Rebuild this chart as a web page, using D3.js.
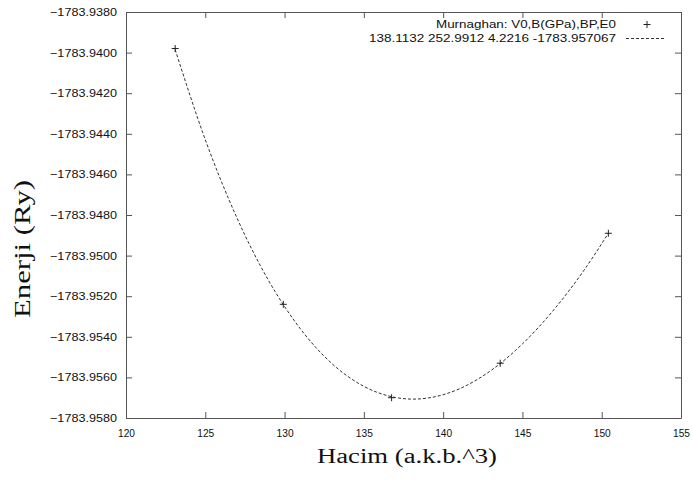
<!DOCTYPE html>
<html>
<head>
<meta charset="utf-8">
<script src="https://cdn.jsdelivr.net/npm/d3@7"></script>
<style>
body { margin: 0; background: #fff; }
text { fill: #111; }
</style>
</head>
<body>
<svg width="692" height="480"></svg>
<script>
// tick values
const xTicks = [120, 125, 130, 135, 140, 145, 150, 155];
const yTicks = [-1783.9380, -1783.9400, -1783.9420, -1783.9440, -1783.9460, -1783.9480,
    -1783.9500, -1783.9520, -1783.9540, -1783.9560, -1783.9580];

// measured points (volume, energy)
const pointV = [123.1, 129.92, 136.75, 143.6, 150.42];
const pointE = [-1783.9398, -1783.9524, -1783.9570, -1783.9553, -1783.9489];

// fitted curve
const fitV = [123.1, 125, 127, 129, 131, 133, 135, 137, 138.1, 139, 141, 143, 145, 147, 149, 150.42];
const fitE = [-1783.93985, -1783.94429, -1783.94815, -1783.95124, -1783.95361, -1783.95533,
    -1783.95644, -1783.95699, -1783.95707, -1783.95702, -1783.95657, -1783.95567,
    -1783.95435, -1783.95265, -1783.95059, -1783.94890];

const legendTitle = "Murnaghan: V0,B(GPa),BP,E0";
const legendFit = "138.1132 252.9912 4.2216 -1783.957067";
const xTitle = "Hacim (a.k.b.^3)";
const yTitle = "Enerji (Ry)";

const svg = d3.select("svg");
const plotLeft = 126, plotRight = 681, plotTop = 12, plotBottom = 418;
const sans = "'Liberation Sans', Arial, Helvetica, sans-serif";
const serif = "'Liberation Serif', 'Times New Roman', serif";

const x = d3.scaleLinear().domain([120, 155]).range([plotLeft, plotRight]);
const y = d3.scaleLinear().domain([-1783.958, -1783.938]).range([plotBottom, plotTop]);

// frame with inward ticks on all sides
const axisColor = "#555";
function styleAxis(g) {
    g.selectAll("path, line").attr("stroke", axisColor).attr("stroke-width", 1);
    g.selectAll("text").attr("fill", "#111");
}

svg.append("g")
    .attr("transform", `translate(0,${plotBottom})`)
    .call(d3.axisBottom(x).tickValues(xTicks).tickSize(-6).tickSizeOuter(0).tickPadding(11))
    .call(styleAxis)
    .call(g => g.selectAll("text").style("font", `11px ${sans}`).attr("textLength", 17)
        .attr("lengthAdjust", "spacingAndGlyphs"));

svg.append("g")
    .attr("transform", `translate(0,${plotTop})`)
    .call(d3.axisTop(x).tickValues(xTicks).tickSize(-6).tickSizeOuter(0).tickFormat(""))
    .call(styleAxis);

svg.append("g")
    .attr("transform", `translate(${plotLeft},0)`)
    .call(d3.axisLeft(y).tickValues(yTicks).tickSize(-6).tickSizeOuter(0).tickPadding(9)
        .tickFormat(d3.format(".4f")))
    .call(styleAxis)
    .call(g => g.selectAll("text").style("font", `11px ${sans}`).attr("textLength", 67)
        .attr("lengthAdjust", "spacingAndGlyphs"));

svg.append("g")
    .attr("transform", `translate(${plotRight},0)`)
    .call(d3.axisRight(y).tickValues(yTicks).tickSize(-6).tickSizeOuter(0).tickFormat(""))
    .call(styleAxis);

// fitted curve
const fit = fitV.map((v, i) => [v, fitE[i]]);
svg.append("path")
    .datum(fit)
    .attr("fill", "none")
    .attr("stroke", "#333")
    .attr("stroke-width", 1)
    .attr("stroke-dasharray", "3,2")
    .attr("d", d3.line().x(d => x(d[0])).y(d => y(d[1])).curve(d3.curveMonotoneX));

// points as plus signs
const pts = pointV.map((v, i) => [v, pointE[i]]);
svg.append("g").selectAll("path")
    .data(pts)
    .enter().append("path")
    .attr("d", "M-3.5,0H3.5M0,-3.5V3.5")
    .attr("transform", d => `translate(${x(d[0])},${y(d[1])})`)
    .attr("stroke", "#222")
    .attr("stroke-width", 1)
    .attr("fill", "none");

// legend
const legend = svg.append("g").style("font", `11px ${sans}`);
legend.append("text").attr("x", 616).attr("y", 28).attr("text-anchor", "end")
    .attr("textLength", 180).attr("lengthAdjust", "spacingAndGlyphs").text(legendTitle);
legend.append("path").attr("d", "M-3.5,0H3.5M0,-3.5V3.5")
    .attr("transform", "translate(647,24.5)")
    .attr("stroke", "#222").attr("fill", "none");
legend.append("text").attr("x", 616).attr("y", 42).attr("text-anchor", "end")
    .attr("textLength", 247).attr("lengthAdjust", "spacingAndGlyphs").text(legendFit);
legend.append("line").attr("x1", 626).attr("x2", 666).attr("y1", 38.5).attr("y2", 38.5)
    .attr("stroke", "#333").attr("stroke-dasharray", "3,2");

// axis titles
svg.append("text")
    .attr("x", 407).attr("y", 463)
    .attr("text-anchor", "middle")
    .attr("textLength", 180).attr("lengthAdjust", "spacingAndGlyphs")
    .style("font", `20px ${serif}`)
    .text(xTitle);

svg.append("text")
    .attr("transform", "translate(30,249) rotate(-90)")
    .attr("text-anchor", "middle")
    .attr("textLength", 138).attr("lengthAdjust", "spacingAndGlyphs")
    .style("font", `24px ${serif}`)
    .text(yTitle);
</script>
</body>
</html>
